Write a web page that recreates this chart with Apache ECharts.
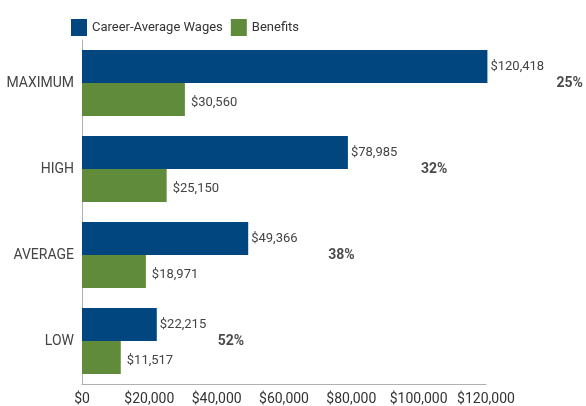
<!DOCTYPE html>
<html>
<head>
<meta charset="utf-8">
<script src="https://cdn.jsdelivr.net/npm/echarts@6/dist/echarts.min.js"></script>
<style>
  html, body { margin: 0; padding: 0; background: #fff; }
  #main { width: 586px; height: 406px; }
</style>
</head>
<body>
<div id="main"></div>
<script>
const categories = ['MAXIMUM', 'HIGH', 'AVERAGE', 'LOW'];
const wages = [120418, 78985, 49366, 22215];
const benefits = [30560, 25150, 18971, 11517];
const shares = ['25%', '32%', '38%', '52%'];
const xTicks = [0, 20000, 40000, 60000, 80000, 100000, 120000];

var chartDom = document.getElementById('main');
var myChart = echarts.init(chartDom);

const FONT = 'Roboto';
const BLUE = '#02467f';
const GREEN = '#5f8b3b';

function money(v) {
  return '$' + v.toLocaleString('en-US');
}

// horizontal nudge of the % label past the end of the wage bar
const shareOffsets = [64, 68, 75, 56];

var option = {
  animation: false,
  textStyle: { fontFamily: FONT },
  legend: {
    left: 66,
    top: 14,
    itemWidth: 16,
    itemHeight: 17,
    itemGap: 8,
    icon: 'rect',
    textStyle: { fontFamily: FONT, fontSize: 13, color: '#333' },
    data: ['Career-Average Wages', 'Benefits']
  },
  grid: { left: 82, right: 100, top: 40, bottom: 21 },
  xAxis: {
    type: 'value',
    min: 0,
    max: 120000,
    interval: 20000,
    splitLine: { show: false },
    axisTick: { show: false },
    axisLine: { show: true, lineStyle: { color: '#b0b0b0', width: 1 } },
    axisLabel: {
      margin: 8,
      fontFamily: FONT,
      fontSize: 14,
      color: '#333',
      formatter: function (v) { return xTicks.indexOf(v) >= 0 ? money(v) : ''; }
    }
  },
  yAxis: {
    type: 'category',
    inverse: true,
    data: categories,
    axisTick: { show: false },
    axisLine: { show: true, lineStyle: { color: '#b0b0b0', width: 1 } },
    axisLabel: { margin: 8, fontFamily: FONT, fontSize: 14, color: '#444' }
  },
  series: [
    {
      name: 'Career-Average Wages',
      type: 'bar',
      data: wages,
      clip: false,
      barGap: '0%',
      barCategoryGap: '23%',
      itemStyle: { color: BLUE },
      label: {
        show: true,
        position: 'right',
        distance: 3,
        fontFamily: FONT,
        fontSize: 13,
        color: '#444',
        formatter: function (p) { return money(p.value); }
      }
    },
    {
      name: 'Benefits',
      type: 'bar',
      data: benefits,
      clip: false,
      itemStyle: { color: GREEN },
      label: {
        show: true,
        position: 'right',
        distance: 6,
        offset: [0, 3],
        fontFamily: FONT,
        fontSize: 13,
        color: '#444',
        formatter: function (p) { return money(p.value); }
      }
    },
    {
      name: 'share',
      type: 'scatter',
      symbolSize: 0,
      clip: false,
      silent: true,
      data: wages.map(function (w, i) {
        return {
          value: [w, categories[i]],
          label: { offset: [shareOffsets[i], 0] }
        };
      }),
      label: {
        show: true,
        position: 'right',
        fontFamily: FONT,
        fontSize: 14,
        fontWeight: 'bold',
        color: '#1a1a1a',
        formatter: function (p) { return shares[p.dataIndex]; }
      }
    }
  ]
};

myChart.setOption(option);
</script>
</body>
</html>
